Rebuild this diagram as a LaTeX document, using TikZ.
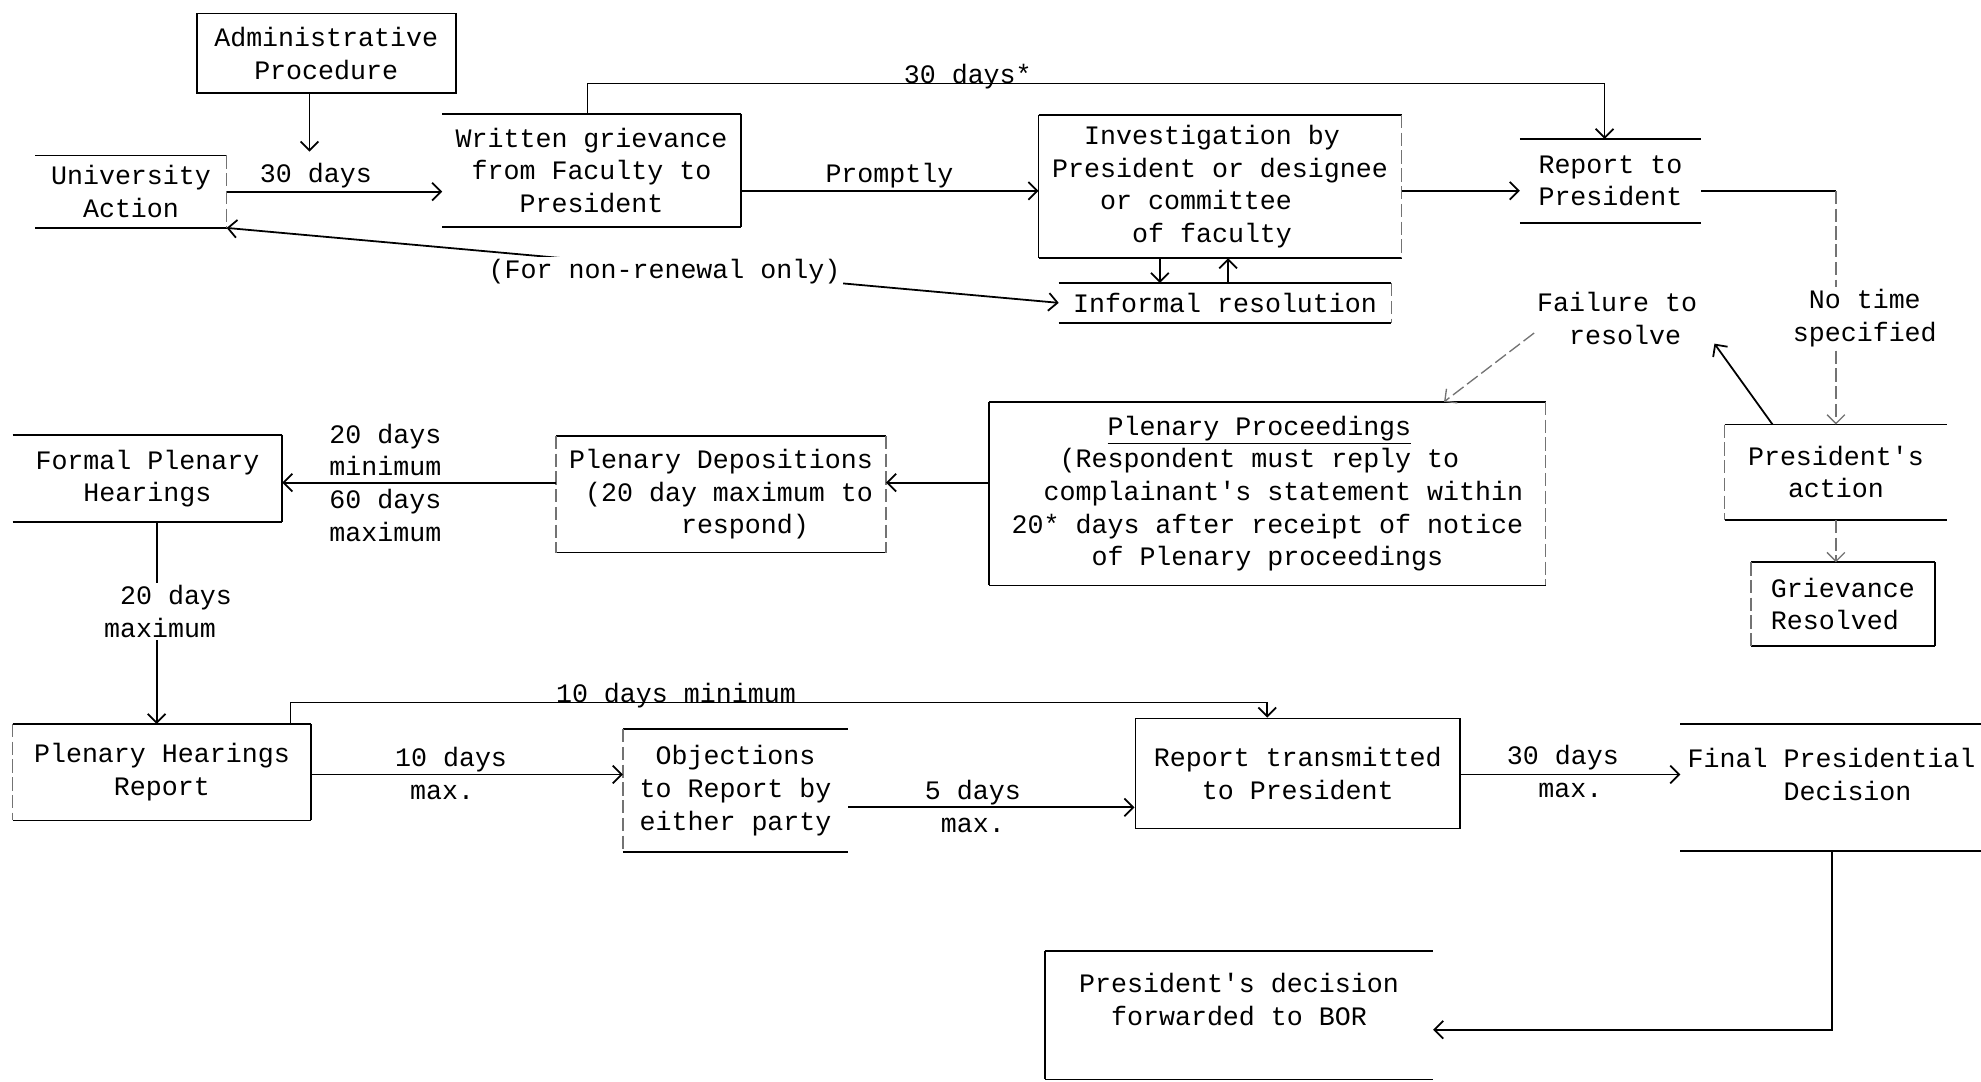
\documentclass[tikz,border=0pt]{standalone}
\usepackage{fontspec}
\usepackage{tikz}
\usetikzlibrary{arrows,arrows.meta}
\newfontfamily\typer{Liberation Mono}
\newcommand{\twfont}{\typer\fontsize{12pt}{14.7pt}\selectfont}

\begin{document}
\begin{tikzpicture}
	[x=0.02cm, y=-0.02cm, line width=0.8pt, >={Straight Barb[length=4pt,width=8pt]},
	every node/.style = {font=\twfont},
	box/.style = {
		anchor=north west, inner sep=0pt, align=center
	},
	note/.style = {
		inner sep=1pt, align=center
	},
	faint/.style = {
		draw=black!55, line width=0.6pt, dash pattern=on 6pt off 2pt
	},
	rules/.style = {
		append after command = {
			(\tikzlastnode.north west) edge (\tikzlastnode.north east)
			(\tikzlastnode.south west) edge (\tikzlastnode.south east)
		}
	},
	lwall/.style = {
		append after command = {
			(\tikzlastnode.north west) edge (\tikzlastnode.south west)
		}
	},
	rwall/.style = {
		append after command = {
			(\tikzlastnode.north east) edge (\tikzlastnode.south east)
		}
	},
	lfaint/.style = {
		append after command = {
			(\tikzlastnode.north west) edge[faint] (\tikzlastnode.south west)
		}
	},
	rfaint/.style = {
		append after command = {
			(\tikzlastnode.north east) edge[faint] (\tikzlastnode.south east)
		}
	}]
	
	\useasboundingbox (0,0) rectangle (1568,856);
	\clip (0,0) rectangle (1568,856);
	
	%Draw boxes
	\node[box, draw, minimum width=4.10cm, minimum height=1.26cm] (admin) at (155,10) {Administrative\\Procedure};
	\node[box, rules, rfaint, minimum width=3.00cm, minimum height=1.12cm] (univ) at (28,123) {University\\Action};
	\node[box, rules, rwall, minimum width=4.70cm, minimum height=1.76cm] (written) at (350,90) {Written grievance\\from Faculty to\\President};
	\node[box, rules, lwall, rfaint, align=left, minimum width=5.72cm, minimum height=2.24cm] (invest) at (822,91) {\hphantom{00}Investigation by\\President or designee\\\hphantom{000}or committee\\\hphantom{00000}of faculty};
	\node[box, rules, rfaint, minimum width=5.24cm, minimum height=0.60cm] (informal) at (838,224) {Informal resolution};
	\node[box, rules, align=left, minimum width=2.84cm, minimum height=1.30cm] (report) at (1203,110) {Report to\\President};
	
	\node[box, rules, lwall, rfaint, align=left, minimum width=8.78cm, minimum height=2.88cm] (plenary) at (783,318) {\hphantom{000000}\underline{Plenary Proceedings}\\\hphantom{000}(Respondent must reply to\\\hphantom{00}complainant\textquotesingle s statement within\\20* days after receipt of notice\\\hphantom{00000}of Plenary proceedings};
	\node[box, rules, lfaint, rfaint, align=left, minimum width=5.20cm, minimum height=1.82cm] (depos) at (440,345) {Plenary Depositions\\\hphantom{0}(20 day maximum to\\\hphantom{0000000}respond)};
	\node[box, rules, rwall, minimum width=4.24cm, minimum height=1.36cm] (formal) at (10,344) {Formal Plenary\\Hearings};
	\node[box, rules, lfaint, minimum width=3.50cm, minimum height=1.48cm] (action) at (1365,336) {President\textquotesingle s\\action};
	\node[box, rules, lfaint, rwall, align=left, minimum width=2.88cm, minimum height=1.30cm] (resolved) at (1386,445) {Grievance\\Resolved};
	
	\node[box, rules, lfaint, rwall, minimum width=4.70cm, minimum height=1.50cm] (hreport) at (10,573) {Plenary Hearings\\Report};
	\node[box, rules, lfaint, minimum width=3.54cm, minimum height=1.92cm] (object) at (493,577) {Objections\\to Report by\\either party};
	\node[box, draw, minimum width=5.14cm, minimum height=1.74cm] (transmit) at (898,568) {Report transmitted\\to President};
	\node[box, rules, align=left, text depth=0.42cm, minimum width=4.76cm, minimum height=1.98cm] (final) at (1330,573) {Final Presidential\\\hphantom{000000}Decision};
	\node[box, rules, lwall, text depth=0.50cm, minimum width=6.12cm, minimum height=2.00cm] (bor) at (827,753) {President\textquotesingle s decision\\forwarded to BOR};
	
	\node[note, align=left] (fail) at (1280,252) {Failure to\\\hphantom{00}resolve};
	
	\coordinate (rowa) at (0,151);
	\coordinate (rowb) at (0,382);
	\coordinate (rowc) at (0,613);
	\coordinate (rowd) at (0,639);
	\coordinate (rowe) at (0,815);
	\coordinate (admdrop) at (245,120);
	\coordinate (topl) at (465,66);
	\coordinate (topr) at (1270,66);
	\coordinate (dcol) at (918,0);
	\coordinate (ucol) at (972,0);
	\coordinate (ftip) at (1357,272);
	\coordinate (fcol) at (1403,0);
	\coordinate (pcol) at (1143,0);
	\coordinate (vcol) at (124,0);
	\coordinate (botl) at (230,556);
	\coordinate (botr) at (1003,556);
	\coordinate (ecol) at (1450,0);
	
	%Draw wires
	\draw[->] (admin.south -| admdrop) -- (admdrop);
	\draw[->] (univ.east) -- (written.west |- univ.east);
	\draw[<->] (univ.south east) -- (informal.west);
	\draw[->] (written.east |- rowa) -- (invest.west |- rowa);
	\draw[->] (written.north -| topl) -- (topl) -- (topr) -- (report.north -| topr);
	\draw[->] (invest.south -| dcol) -- (informal.north -| dcol);
	\draw[->] (informal.north -| ucol) -- (invest.south -| ucol);
	\draw[->] (invest.east |- rowa) -- (report.west |- rowa);
	
	\draw (report.east |- rowa) -- (action.north |- rowa);
	\draw[->,faint] (action.north |- rowa) -- (action.north);
	\draw[->] (action.north -| fcol) -- (ftip);
	\draw[->,faint] (fail.190) -- (plenary.north -| pcol);
	\draw[->,faint] (action.south) -- (action.south |- resolved.north);
	
	\draw[->] (plenary.west |- rowb) -- (depos.east |- rowb);
	\draw[->] (depos.west |- rowb) -- (formal.east |- rowb);
	\draw[->] (formal.south -| vcol) -- (hreport.north -| vcol);
	
	\draw[->] (hreport.east |- rowc) -- (object.west |- rowc);
	\draw[->] (hreport.north -| botl) -- (botl) -- (botr) -- (transmit.north -| botr);
	\draw[->] (object.east |- rowd) -- (transmit.west |- rowd);
	\draw[->] (transmit.east |- rowc) -- (final.west |- rowc);
	\draw[->] (final.south -| ecol) -- (ecol |- rowe) -- (bor.east |- rowe);
	
	%Draw labels on top of wires
	\node[note] (d30) at (250,139) {30 days};
	\node[note] (prompt) at (704,139) {Promptly};
	\node[anchor=base] (d30s) at (766,66) {30 days*};
	\node[note, fill=white] (nonren) at (526,215) {(For non-renewal only)};
	\node[note, fill=white] (notime) at (1476,252) {No time\\specified};
	\node[note, align=left] (d2060) at (305,382) {20 days\\minimum\\60 days\\maximum};
	\node[note, fill=white, align=left] (d20) at (133,484) {\hphantom{0}20 days\\maximum};
	\node[note] (d10) at (357,601) {10 days};
	\node[note] (m10) at (350,627) {max.};
	\node[anchor=base] (d10m) at (535,556) {10 days minimum};
	\node[note] (d5) at (770,627) {5 days};
	\node[note] (m5) at (770,653) {max.};
	\node[note] (d30b) at (1237,600) {30 days};
	\node[note] (m30) at (1243,626) {max.};
	
\end{tikzpicture}
\end{document}
